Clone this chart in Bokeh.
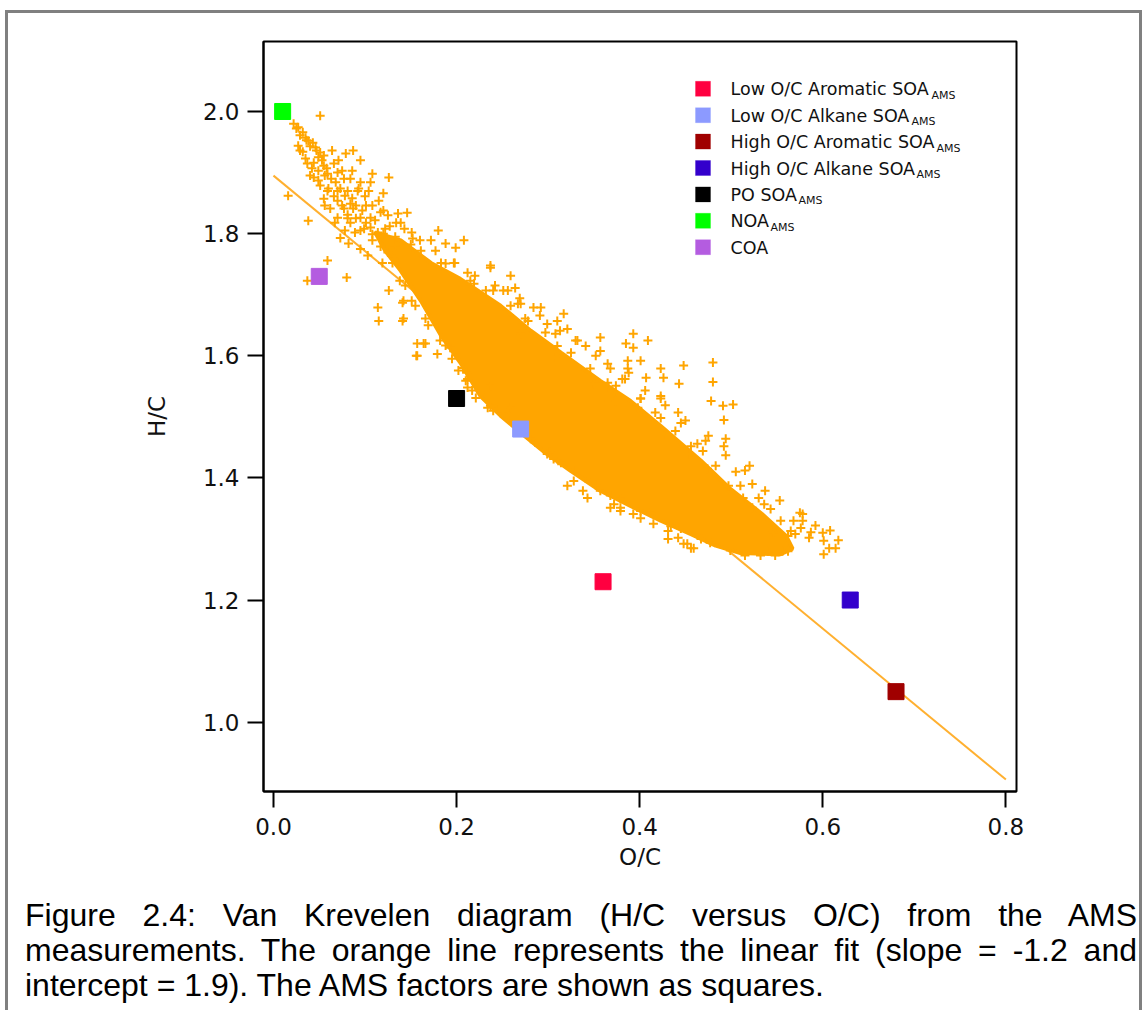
from bokeh.plotting import figure
from bokeh.layouts import column
from bokeh.models import (ColumnDataSource, LabelSet, BoxAnnotation, FixedTicker,
                          NumeralTickFormatter, Range1d, Div)
from bokeh.core.properties import value
from bokeh.embed import file_html
from bokeh.resources import INLINE

# ---------------- data ----------------
# individual AMS points (O/C, H/C)
cloud_oc = [
    0.051, 0.022, 0.027, 0.032, 0.035, 0.038, 0.043, 0.032, 0.046, 0.051, 0.055, 0.049, 0.079, 0.087,
    0.037, 0.044, 0.055, 0.066, 0.044, 0.059, 0.070, 0.077, 0.086, 0.095, 0.108, 0.126, 0.051, 0.059,
    0.070, 0.081, 0.092, 0.104, 0.016, 0.055, 0.070, 0.084, 0.101, 0.115, 0.120, 0.077, 0.087, 0.038,
    0.070, 0.081, 0.095, 0.106, 0.120, 0.136, 0.146, 0.139, 0.073, 0.095, 0.106, 0.120, 0.152, 0.082,
    0.095, 0.103, 0.119, 0.059, 0.037, 0.080, 0.126, 0.114, 0.115, 0.141, 0.141, 0.157, 0.179, 0.164,
    0.180, 0.172, 0.188, 0.208, 0.199, 0.188, 0.197, 0.237, 0.259, 0.212, 0.219, 0.240, 0.256, 0.264,
    0.284, 0.292, 0.299, 0.310, 0.308, 0.310, 0.308, 0.267, 0.278, 0.270,
    0.207, 0.210, 0.237, 0.193,
    0.237, 0.251, 0.270, 0.317, 0.321, 0.332, 0.341, 0.357, 0.393, 0.409, 0.385, 0.393, 0.357, 0.365,
    0.387, 0.401, 0.387, 0.448, 0.423, 0.426, 0.407, 0.381, 0.443, 0.423, 0.423, 0.401, 0.372, 0.442,
    0.445, 0.423, 0.357, 0.350, 0.366,
    0.142, 0.142, 0.157, 0.166, 0.156, 0.212, 0.212, 0.221, 0.234, 0.240, 0.251, 0.259, 0.299, 0.306,
    0.314, 0.321, 0.328, 0.338, 0.343, 0.357, 0.372, 0.379, 0.393, 0.401, 0.415, 0.431, 0.442, 0.452,
    0.459,
    0.388, 0.480, 0.480, 0.365, 0.374, 0.398, 0.478, 0.491, 0.502, 0.492, 0.475, 0.494, 0.492, 0.463,
    0.432, 0.452, 0.469, 0.520, 0.505, 0.474, 0.523, 0.497, 0.530, 0.536, 0.513, 0.523, 0.578, 0.554,
    0.568, 0.578, 0.576, 0.587, 0.585, 0.600, 0.601, 0.607, 0.614, 0.601, 0.617, 0.570, 0.562, 0.546,
    0.556, 0.562, 0.540, 0.456, 0.448, 0.431, 0.368, 0.379,
    0.122, 0.133, 0.150, 0.161, 0.183, 0.215, 0.232, 0.259, 0.275, 0.297, 0.325, 0.346, 0.374, 0.401,
    0.417, 0.439, 0.456, 0.483, 0.510, 0.543, 0.565,
    0.130, 0.144, 0.155, 0.169, 0.188, 0.202, 0.217, 0.237, 0.259, 0.286, 0.311, 0.341, 0.368, 0.401,
    0.434, 0.467, 0.499, 0.532,
    0.025, 0.029, 0.036, 0.040, 0.047, 0.053, 0.058, 0.049, 0.063, 0.068, 0.073, 0.078, 0.086, 0.090,
    0.097, 0.101, 0.111, 0.114, 0.127, 0.133, 0.108, 0.089, 0.084, 0.062, 0.056, 0.071, 0.027, 0.040,
    0.160, 0.177, 0.198, 0.220, 0.242, 0.269, 0.291, 0.313, 0.330, 0.352, 0.368, 0.384, 0.406, 0.428,
    0.450, 0.472, 0.494, 0.515, 0.537, 0.553, 0.575, 0.592, 0.608,
    0.138, 0.151, 0.166, 0.182, 0.195, 0.211, 0.226, 0.244, 0.264, 0.281, 0.302, 0.330, 0.352, 0.379,
    0.412, 0.445, 0.477, 0.515, 0.548,
    0.029, 0.035, 0.042, 0.049, 0.060, 0.066, 0.075, 0.081, 0.090, 0.099, 0.108, 0.117, 0.125, 0.132,
    0.064, 0.075, 0.084, 0.093, 0.100, 0.108, 0.117, 0.125, 0.134, 0.143, 0.151, 0.095, 0.106, 0.078,
    0.067, 0.056,
]
cloud_hc = [
    1.993, 1.980, 1.974, 1.966, 1.957, 1.952, 1.949, 1.934, 1.941, 1.933, 1.928, 1.925, 1.931, 1.936,
    1.915, 1.916, 1.911, 1.915, 1.892, 1.898, 1.900, 1.890, 1.903, 1.884, 1.898, 1.892, 1.879, 1.870,
    1.870, 1.870, 1.870, 1.870, 1.862, 1.857, 1.854, 1.849, 1.846, 1.854, 1.866, 1.841, 1.841, 1.821,
    1.826, 1.825, 1.826, 1.826, 1.838, 1.833, 1.834, 1.818, 1.793, 1.805, 1.810, 1.800, 1.792, 1.784,
    1.775, 1.764, 1.752, 1.756, 1.723, 1.728, 1.707, 1.679, 1.657, 1.657, 1.687, 1.600, 1.603, 1.620,
    1.805, 1.789, 1.784, 1.789, 1.777, 1.751, 1.752, 1.748, 1.731, 1.736, 1.718, 1.707, 1.707, 1.711,
    1.679, 1.679, 1.652, 1.657, 1.636, 1.616, 1.597, 1.685, 1.657, 1.636,
    1.580, 1.559, 1.551, 1.613,
    1.744, 1.707, 1.685, 1.669, 1.644, 1.625, 1.616, 1.630, 1.636, 1.625, 1.620, 1.613, 1.608, 1.587,
    1.592, 1.592, 1.579, 1.584, 1.579, 1.564, 1.564, 1.562, 1.554, 1.534, 1.530, 1.530, 1.530, 1.507,
    1.490, 1.498, 1.526, 1.554, 1.548,
    1.690, 1.661, 1.620, 1.620, 1.600, 1.562, 1.548, 1.531, 1.515, 1.510, 1.505, 1.515, 1.439, 1.431,
    1.425, 1.387, 1.395, 1.379, 1.367, 1.379, 1.357, 1.351, 1.341, 1.334, 1.325, 1.313, 1.302, 1.292,
    1.285,
    1.572, 1.589, 1.557, 1.556, 1.526, 1.515, 1.526, 1.518, 1.520, 1.495, 1.469, 1.464, 1.452, 1.456,
    1.466, 1.439, 1.444, 1.420, 1.410, 1.415, 1.390, 1.387, 1.367, 1.357, 1.367, 1.351, 1.341, 1.330,
    1.330, 1.330, 1.318, 1.311, 1.302, 1.310, 1.297, 1.285, 1.285, 1.275, 1.298, 1.308, 1.305, 1.311,
    1.280, 1.280, 1.280, 1.285, 1.292, 1.300, 1.351, 1.346,
    1.808, 1.795, 1.782, 1.772, 1.752, 1.723, 1.707, 1.682, 1.661, 1.638, 1.605, 1.579, 1.551, 1.530,
    1.507, 1.477, 1.452, 1.420, 1.387, 1.349, 1.313,
    1.752, 1.715, 1.682, 1.650, 1.617, 1.576, 1.543, 1.518, 1.494, 1.458, 1.428, 1.399, 1.371, 1.346,
    1.321, 1.300, 1.281, 1.273,
    1.972, 1.961, 1.953, 1.943, 1.936, 1.920, 1.907, 1.903, 1.890, 1.884, 1.874, 1.862, 1.858, 1.846,
    1.838, 1.818, 1.822, 1.802, 1.812, 1.781, 1.789, 1.802, 1.818, 1.841, 1.895, 1.920, 1.944, 1.895,
    1.789, 1.772, 1.752, 1.731, 1.715, 1.694, 1.666, 1.641, 1.625, 1.600, 1.579, 1.562, 1.543, 1.519,
    1.494, 1.461, 1.437, 1.412, 1.379, 1.363, 1.343, 1.322, 1.314,
    1.723, 1.690, 1.661, 1.625, 1.595, 1.572, 1.540, 1.513, 1.486, 1.464, 1.442, 1.412, 1.388, 1.366,
    1.343, 1.317, 1.294, 1.273, 1.273,
    1.936, 1.923, 1.907, 1.887, 1.874, 1.861, 1.846, 1.831, 1.825, 1.808, 1.799, 1.779, 1.769, 1.759,
    1.936, 1.903, 1.890, 1.874, 1.861, 1.846, 1.835, 1.830, 1.818, 1.808, 1.802, 1.920, 1.884, 1.805,
    1.818, 1.846,
]

# outline of the saturated (overplotted) core of the point cloud
core_oc = [0.111, 0.139, 0.172, 0.204, 0.248, 0.281, 0.314, 0.357, 0.390, 0.423, 0.467, 0.499, 0.532,
           0.560, 0.567, 0.554, 0.510, 0.483, 0.456, 0.423, 0.390, 0.357, 0.325, 0.297, 0.270, 0.248,
           0.226, 0.204, 0.183, 0.161, 0.139, 0.122]
core_hc = [1.802, 1.789, 1.752, 1.726, 1.682, 1.641, 1.605, 1.559, 1.526, 1.485, 1.428, 1.382, 1.343,
           1.305, 1.284, 1.275, 1.277, 1.289, 1.308, 1.330, 1.354, 1.379, 1.411, 1.441, 1.474, 1.502,
           1.534, 1.589, 1.633, 1.690, 1.739, 1.772]

# linear fit end points
fit_oc = [0.0, 0.8]
fit_hc = [1.895, 0.906]

# AMS factors
factor_names = ["Low O/C Aromatic SOA", "Low O/C Alkane SOA", "High O/C Aromatic SOA",
                "High O/C Alkane SOA", "PO SOA", "NOA", "COA"]
factor_subs = ["AMS", "AMS", "AMS", "AMS", "AMS", "AMS"]
factor_oc = [0.36, 0.27, 0.68, 0.63, 0.20, 0.01, 0.05]
factor_hc = [1.23, 1.48, 1.05, 1.20, 1.53, 2.00, 1.73]
factor_colors = ["#FF0040", "#8C9AFF", "#A00000", "#3300CC", "#000000", "#00FF00", "#B45CE0"]

x_ticks = [0.0, 0.2, 0.4, 0.6, 0.8]
y_ticks = [1.0, 1.2, 1.4, 1.6, 1.8, 2.0]

caption_lines = [
    "Figure 2.4: Van Krevelen diagram (H/C versus O/C) from the AMS",
    "measurements. The orange line represents the linear fit (slope = -1.2 and",
    "intercept = 1.9). The AMS factors are shown as squares.",
]

# ---------------- styles ----------------
ORANGE = "#FFA500"
FONT = "DejaVu Sans"
TXT = "#111111"
GRAY = "#808080"
G = f"linear-gradient({GRAY},{GRAY})"

TOP_H = 885
CAP_H = 1010 - TOP_H

# ---------------- main figure ----------------
p = figure(width=1148, height=TOP_H, output_backend="svg", toolbar_location=None,
           x_range=Range1d(-0.0109, 0.8116), y_range=Range1d(0.8865, 2.1146),
           min_border_left=263, min_border_right=132, min_border_top=41,
           min_border_bottom=TOP_H - 791)
p.background_fill_color = "white"
p.border_fill_color = None
p.outline_line_color = "black"
p.outline_line_width = 2
p.outline_line_alpha = 1
p.grid.visible = False
p.styles = {
    "background-color": "white",
    "background-image": f"{G}, {G}, {G}",
    "background-position": "5px 10px, 5px 10px, 1139px 10px",
    "background-size": "3px 100%, 1137px 3px, 3px 100%",
    "background-repeat": "no-repeat",
}

for ax, ticks in ((p.xaxis[0], x_ticks), (p.yaxis[0], y_ticks)):
    ax.ticker = FixedTicker(ticks=ticks, minor_ticks=[])
    ax.formatter = NumeralTickFormatter(format="0.0")
    ax.major_tick_out = 16
    ax.major_tick_in = 0
    ax.minor_tick_out = 0
    ax.minor_tick_in = 0
    ax.major_tick_line_width = 2
    ax.axis_line_width = 2
    ax.major_label_text_font = FONT
    ax.major_label_text_font_size = "23px"
    ax.major_label_text_color = TXT
    ax.axis_label_text_font = FONT
    ax.axis_label_text_font_size = "23px"
    ax.axis_label_text_font_style = "normal"
    ax.axis_label_text_color = TXT

p.xaxis.axis_label = "O/C"
p.yaxis.axis_label = "H/C"
p.xaxis.major_label_standoff = 10
p.yaxis.major_label_standoff = 8
p.xaxis.axis_label_standoff = 6
p.yaxis.axis_label_standoff = 30

# fit line (under the cloud)
p.line(fit_oc, fit_hc, line_color="#FFB030", line_width=2)

# cloud
p.patch(core_oc, core_hc, fill_color=ORANGE, line_color=ORANGE, line_width=4)
p.scatter(cloud_oc, cloud_hc, marker="cross", size=9, line_color=ORANGE, line_width=2)

# factors
fsrc = ColumnDataSource(dict(x=factor_oc, y=factor_hc, c=factor_colors))
p.scatter("x", "y", source=fsrc, marker="square", size=16, fill_color="c", line_color="c")

# ---------------- legend (canvas px) ----------------
row0, drow = 88.3, 26.4
for i, c in enumerate(factor_colors):
    cy = row0 + i * drow
    p.add_layout(BoxAnnotation(left=695, right=710, top=cy - 7.5, bottom=cy + 7.5,
                               left_units="canvas", right_units="canvas",
                               top_units="canvas", bottom_units="canvas",
                               fill_color=c, fill_alpha=1, line_color=c, line_width=1))

leg_src = ColumnDataSource(dict(
    x=[730] * len(factor_names),
    y=[row0 + i * drow + 6.5 for i in range(len(factor_names))],
    t=factor_names))
p.add_layout(LabelSet(x="x", y="y", text="t", source=leg_src, x_units="canvas", y_units="canvas",
                      text_font=value(FONT), text_font_size="17.5px", text_color=TXT,
                      text_baseline="alphabetic", text_align="left"))
sub_x = [931, 911, 936, 916, 798, 770]
sub_src = ColumnDataSource(dict(
    x=sub_x,
    y=[row0 + i * drow + 10 for i in range(len(sub_x))],
    t=factor_subs))
p.add_layout(LabelSet(x="x", y="y", text="t", source=sub_src, x_units="canvas", y_units="canvas",
                      text_font=value(FONT), text_font_size="11px", text_color=TXT,
                      text_baseline="alphabetic", text_align="left"))

# ---------------- caption (justified) ----------------
html_lines = []
for i, ln in enumerate(caption_lines):
    if i < len(caption_lines) - 1:
        css = "display:block; text-align:justify; text-align-last:justify; height:35px; overflow:hidden;"
    else:
        css = "display:block; white-space:nowrap; text-align:left; height:35px;"
    html_lines.append(f'<div style="{css}">{ln}</div>')
cap_html = ('<div style="margin-left:25px; width:1112px; padding-top:13px; '
            "font-family:'Liberation Sans', Arial, sans-serif; font-size:32px; line-height:35px; "
            'color:black;">' + "".join(html_lines) + "</div>")

cap = Div(text=cap_html, width=1148, height=CAP_H, margin=(0, 0, 0, 0))
cap.styles = {
    "background-color": "white",
    "background-image": f"{G}, {G}",
    "background-position": "5px 0px, 1139px 0px",
    "background-size": "3px 100%, 3px 100%",
    "background-repeat": "no-repeat",
}

layout = column(p, cap, spacing=0)
open("out.html", "w").write(file_html(layout, INLINE))
